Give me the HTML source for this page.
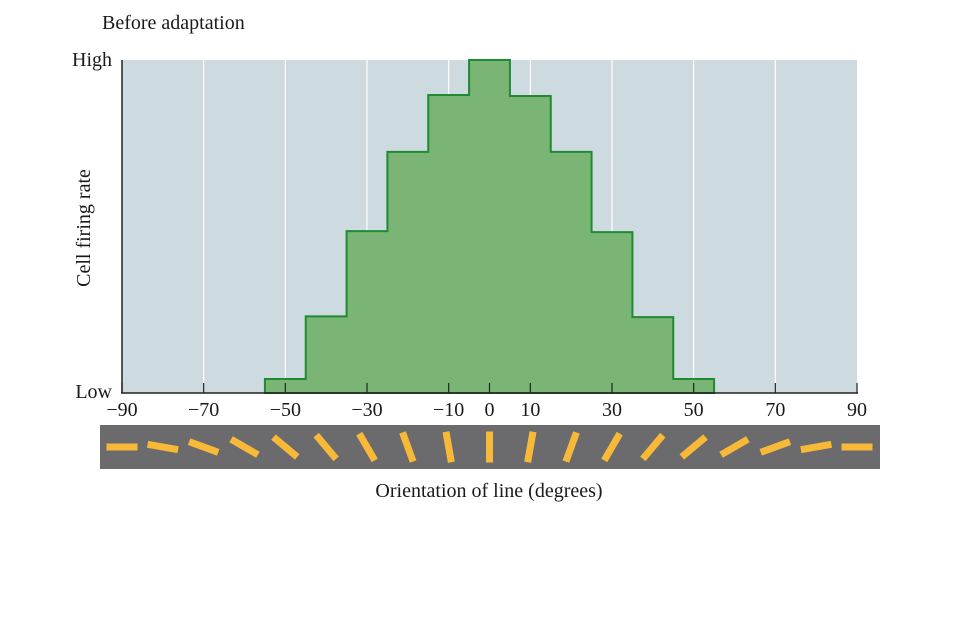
<!DOCTYPE html>
<html><head><meta charset="utf-8"><style>
body{margin:0;background:#fff;}
svg text{font-family:"Liberation Serif",serif;fill:#1a1a1a;}
</style></head><body>
<svg width="960" height="625">
<text x="102" y="29" font-size="20">Before adaptation</text>
<rect x="122" y="60" width="735" height="333" fill="#cddae0"/>
<g id="grid"></g>
<g id="bars"></g>
<g id="ticks"></g>
<line x1="122" y1="60" x2="122" y2="393.5" stroke="#222" stroke-width="1.5"/>
<line x1="121" y1="393" x2="858" y2="393" stroke="#222" stroke-width="1.5"/>
<text x="112" y="66" font-size="20" text-anchor="end">High</text>
<text x="112" y="398" font-size="20" text-anchor="end">Low</text>
<text transform="translate(90,228) rotate(-90)" font-size="20" text-anchor="middle">Cell firing rate</text>
<rect x="100" y="425" width="780" height="44" fill="#6b6b6e"/>
<g id="marks"></g>
<text x="489" y="497" font-size="20" text-anchor="middle">Orientation of line (degrees)</text>
</svg>
<script>
const categories=[-50,-40,-30,-20,-10,0,10,20,30,40,50];
const firingRate=[0.042,0.23,0.486,0.724,0.895,1,0.892,0.724,0.483,0.228,0.042];
const tickLabels=[-90,-70,-50,-30,-10,0,10,30,50,70,90];
const gridValues=[-70,-50,-30,-10,10,30,50,70];
const orientations=[-90,-80,-70,-60,-50,-40,-30,-20,-10,0,10,20,30,40,50,60,70,80,90];
const NS="http://www.w3.org/2000/svg";
const X0=122,X1=857,Y0=393,Y1=60;
const xs=v=>X0+(v+90)/180*(X1-X0);
const ys=v=>Y0-v*(Y0-Y1);
function mk(tag,attrs,parent){const e=document.createElementNS(NS,tag);for(const k in attrs)e.setAttribute(k,attrs[k]);document.getElementById(parent).appendChild(e);return e;}
gridValues.forEach(g=>{const l=mk('line',{x1:xs(g),x2:xs(g),y1:Y1,y2:Y0,stroke:'#fff','stroke-width':1.2},'grid');

});
let d='M'+xs(categories[0]-5)+','+Y0;
categories.forEach((c,i)=>{d+=' L'+xs(c-5)+','+ys(firingRate[i])+' L'+xs(c+5)+','+ys(firingRate[i]);});
d+=' L'+xs(categories[categories.length-1]+5)+','+Y0+' Z';
const p=mk('path',{d:d,fill:'#7ab575',stroke:'#1f8a32','stroke-width':2},'bars');


tickLabels.forEach(t=>{const l=mk('line',{x1:xs(t),x2:xs(t),y1:Y0-10,y2:Y0,stroke:'#222','stroke-width':1.2},'ticks');


const tx=mk('text',{x:xs(t),y:416,'font-size':20,'text-anchor':'middle'},'ticks');
tx.textContent=(t<0?'\u2212'+(-t):String(t));

});
orientations.forEach(o=>{const cx=xs(o),cy=447;
const r=mk('rect',{x:cx-3.5,y:cy-15.5,width:7,height:31,fill:'#f9b938',transform:'rotate('+o+' '+cx+' '+cy+')'},'marks');

});
</script>
</body></html>
